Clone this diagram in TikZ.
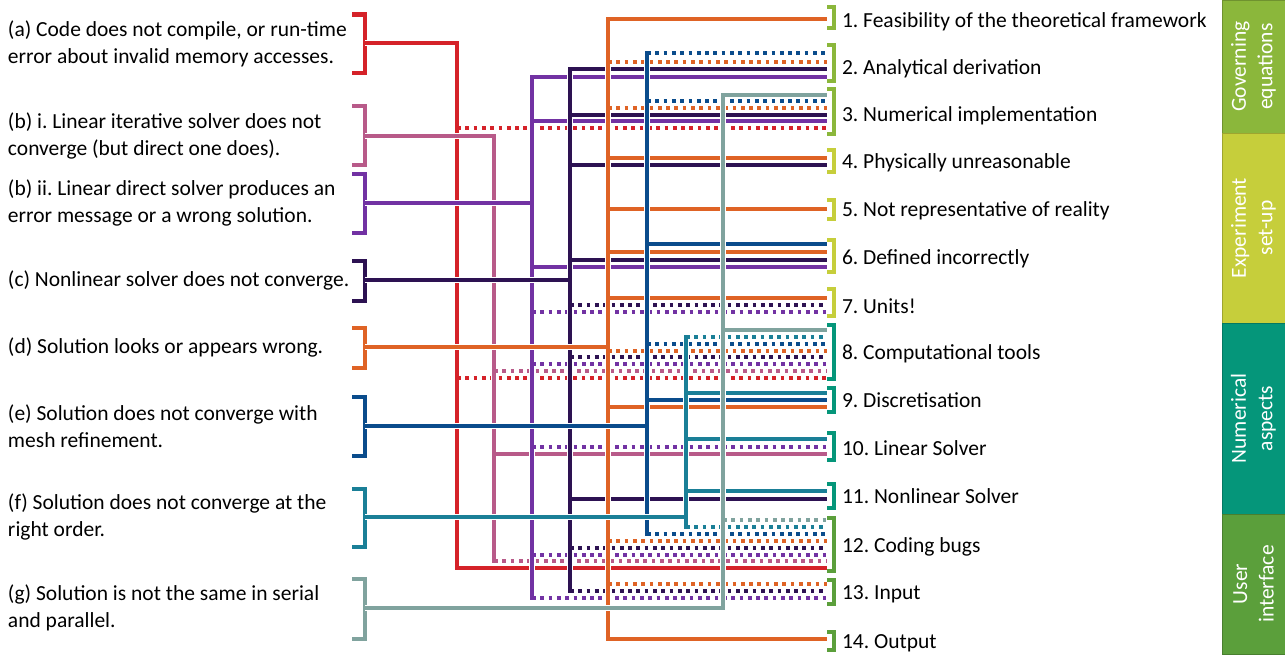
\documentclass[tikz,border=0pt]{standalone}
\usepackage{fontspec}
\setmainfont{Carlito}
\usepackage{tikz}
\usetikzlibrary{positioning}
\definecolor{errA}{HTML}{D52229}
\definecolor{errBi}{HTML}{B85A89}
\definecolor{errBii}{HTML}{7232A3}
\definecolor{errC}{HTML}{2D1252}
\definecolor{errD}{HTML}{DF6325}
\definecolor{errE}{HTML}{0A4C8C}
\definecolor{errF}{HTML}{1A7F97}
\definecolor{errG}{HTML}{80A39E}
\definecolor{grpGov}{HTML}{8BB73B}
\definecolor{grpExp}{HTML}{C6CE3B}
\definecolor{grpNum}{HTML}{05967A}
\definecolor{grpUsr}{HTML}{5B9F3B}
\tikzstyle{txt} = [inner sep=0pt, outer sep=0pt, font=\fontsize{21.5}{26.5}\selectfont]
\newcommand{\fanln}[3]{\draw[#1] (#2 |- 0,#3) -- (rend |- 0,#3);}
\frenchspacing

\begin{document}
\begin{tikzpicture}[x=1pt,y=-1pt]
  \tikzset{
    trunk/.style={draw=#1, line width=4.8pt, line cap=rect,
      preaction={draw=white, line width=6.6pt}},
    fan/.style={draw=#1, line width=3.6pt},
    fandot/.style={draw=#1, line width=3.6pt, dash pattern=on 3.7pt off 4.6pt},
    lbrack/.style={draw=#1, line width=4.6pt},
    rbrack/.style={draw=#1, line width=3.5pt},
    issue/.style={txt, anchor=west, align=left},
    topic/.style={txt, anchor=base west},
    group/.style={txt, fill=#1, draw=#1!80!black, line width=0.8pt,
      rotate=90, minimum height=63pt, text=white, align=center}
  }
  \useasboundingbox (0,0) rectangle (1285,654);

  \coordinate (lb) at (365,0);
  \coordinate (rend) at (827,0);
  \coordinate (ta) at (457,0);
  \coordinate (tb1) at (494,0);
  \coordinate (tb2) at (532,0);
  \coordinate (tc) at (570,0);
  \coordinate (td) at (608,0);
  \coordinate (te) at (647,0);
  \coordinate (tf) at (686,0);
  \coordinate (tg) at (723,0);

  \node[issue] (isa) at (8,44) {(a) Code does not compile, or run-time\\error about invalid memory accesses.};
  \node[issue] (isb1) at (8,136) {(b) i. Linear iterative solver does not\\converge (but direct one does).};
  \node[issue] (isb2) at (8,203) {(b) ii. Linear direct solver produces an\\error message or a wrong solution.};
  \node[issue] (isc) at (8,280) {(c) Nonlinear solver does not converge.};
  \node[issue] (isd) at (8,347) {(d) Solution looks or appears wrong.};
  \node[issue] (ise) at (8,426) {(e) Solution does not converge with\\mesh refinement.};
  \node[issue] (isf) at (8,517) {(f) Solution does not converge at the\\right order.};
  \node[issue] (isg) at (8,608) {(g) Solution is not the same in serial\\and parallel.};

  \draw[lbrack=errA] (352,14.5) -| (365,73) -- (352,73);
  \draw[lbrack=errBi] (352,106) -| (365,165) -- (352,165);
  \draw[lbrack=errBii] (352,174) -| (365,233) -- (352,233);
  \draw[lbrack=errC] (352,261) -| (365,301) -- (352,301);
  \draw[lbrack=errD] (352,328) -| (365,368) -- (352,368);
  \draw[lbrack=errE] (352,397) -| (365,456) -- (352,456);
  \draw[lbrack=errF] (352,489) -| (365,547) -- (352,547);
  \draw[lbrack=errG] (352,579) -| (365,639) -- (352,639);

  \node[topic] (tp1) at (842,27) {1. Feasibility of the theoretical framework};
  \node[topic] (tp2) at (842,74) {2. Analytical derivation};
  \node[topic] (tp3) at (842,121) {3. Numerical implementation};
  \node[topic] (tp4) at (842,168) {4. Physically unreasonable};
  \node[topic] (tp5) at (842,216) {5. Not representative of reality};
  \node[topic] (tp6) at (842,264) {6. Defined incorrectly};
  \node[topic] (tp7) at (842,313) {7. Units!};
  \node[topic] (tp8) at (842,359) {8. Computational tools};
  \node[topic] (tp9) at (842,407) {9. Discretisation};
  \node[topic] (tp10) at (842,455) {10. Linear Solver};
  \node[topic] (tp11) at (842,503) {11. Nonlinear Solver};
  \node[topic] (tp12) at (842,552) {12. Coding bugs};
  \node[topic] (tp13) at (842,599) {13. Input};
  \node[topic] (tp14) at (842,648) {14. Output};

  \draw[rbrack=grpGov] (827,7) -| (834,28) -- (827,28);
  \draw[rbrack=grpGov] (827,45) -| (834,81) -- (827,81);
  \draw[rbrack=grpGov] (827,89) -| (834,134) -- (827,134);
  \draw[rbrack=grpExp] (827,150) -| (834,172) -- (827,172);
  \draw[rbrack=grpExp] (827,200) -| (834,219) -- (827,219);
  \draw[rbrack=grpExp] (827,240) -| (834,272) -- (827,272);
  \draw[rbrack=grpExp] (827,289) -| (834,316) -- (827,316);
  \draw[rbrack=grpNum] (827,325) -| (834,379) -- (827,379);
  \draw[rbrack=grpNum] (827,388) -| (834,412) -- (827,412);
  \draw[rbrack=grpNum] (827,433) -| (834,460) -- (827,460);
  \draw[rbrack=grpNum] (827,484) -| (834,508) -- (827,508);
  \draw[rbrack=grpUsr] (827,518) -| (834,571) -- (827,571);
  \draw[rbrack=grpUsr] (827,580) -| (834,604) -- (827,604);
  \draw[rbrack=grpUsr] (827,632) -| (834,650) -- (827,650);

  % (a)
  \draw[trunk=errA] (lb |- 0,43) -| (ta |- 0,568);
  \fanln{fandot=errA}{ta}{128}
  \fanln{fandot=errA}{ta}{378}
  \fanln{fan=errA}{ta}{568}
  % (b) i.
  \draw[trunk=errBi] (lb |- 0,136) -| (tb1 |- 0,561);
  \fanln{fandot=errBi}{tb1}{371}
  \fanln{fan=errBi}{tb1}{454}
  \fanln{fandot=errBi}{tb1}{561}
  % (b) ii.
  \draw[trunk=errBii] (lb |- 0,203) -- (tb2 |- 0,203) (tb2 |- 0,77) -- (tb2 |- 0,598);
  \fanln{fan=errBii}{tb2}{77}
  \fanln{fan=errBii}{tb2}{121}
  \fanln{fan=errBii}{tb2}{267}
  \fanln{fandot=errBii}{tb2}{312}
  \fanln{fandot=errBii}{tb2}{364}
  \fanln{fandot=errBii}{tb2}{447}
  \fanln{fandot=errBii}{tb2}{555}
  \fanln{fandot=errBii}{tb2}{598}
  % (c)
  \draw[trunk=errC] (lb |- 0,280) -- (tc |- 0,280) (tc |- 0,69) -- (tc |- 0,591);
  \fanln{fan=errC}{tc}{69}
  \fanln{fan=errC}{tc}{115}
  \fanln{fan=errC}{tc}{165}
  \fanln{fan=errC}{tc}{260}
  \fanln{fandot=errC}{tc}{305}
  \fanln{fandot=errC}{tc}{357}
  \fanln{fan=errC}{tc}{499}
  \fanln{fandot=errC}{tc}{548}
  \fanln{fandot=errC}{tc}{591}
  % (d)
  \draw[trunk=errD] (lb |- 0,347) -- (td |- 0,347) (td |- 0,19) -- (td |- 0,639);
  \fanln{fan=errD}{td}{19}
  \fanln{fandot=errD}{td}{62}
  \fanln{fandot=errD}{td}{108}
  \fanln{fan=errD}{td}{158}
  \fanln{fan=errD}{td}{209}
  \fanln{fan=errD}{td}{252}
  \fanln{fan=errD}{td}{298}
  \fanln{fandot=errD}{td}{351}
  \fanln{fan=errD}{td}{407}
  \fanln{fandot=errD}{td}{541}
  \fanln{fandot=errD}{td}{584}
  \fanln{fan=errD}{td}{639}
  % (e)
  \draw[trunk=errE] (lb |- 0,426) -- (te |- 0,426) (te |- 0,53) -- (te |- 0,534);
  \fanln{fandot=errE}{te}{53}
  \fanln{fandot=errE}{te}{101}
  \fanln{fan=errE}{te}{244}
  \fanln{fandot=errE}{te}{344}
  \fanln{fan=errE}{te}{400}
  \fanln{fandot=errE}{te}{534}
  % (f)
  \draw[trunk=errF] (lb |- 0,517) -- (tf |- 0,517) (tf |- 0,337) -- (tf |- 0,527);
  \fanln{fandot=errF}{tf}{337}
  \fanln{fan=errF}{tf}{393}
  \fanln{fan=errF}{tf}{439}
  \fanln{fan=errF}{tf}{491}
  \fanln{fandot=errF}{tf}{527}
  % (g)
  \draw[trunk=errG] (lb |- 0,608) -| (tg |- 0,95);
  \fanln{fan=errG}{tg}{95}
  \fanln{fan=errG}{tg}{330}
  \fanln{fandot=errG}{tg}{520}

  \node[group=grpGov, minimum width=133pt] (gov) at (1253.5,66.5) {Governing\\equations};
  \node[group=grpExp, minimum width=190pt] (exp) at (1253.5,228) {Experiment\\set-up};
  \node[group=grpNum, minimum width=191pt] (num) at (1253.5,418.5) {Numerical\\aspects};
  \node[group=grpUsr, minimum width=140pt] (usr) at (1253.5,584) {User\\interface};
\end{tikzpicture}
\end{document}
